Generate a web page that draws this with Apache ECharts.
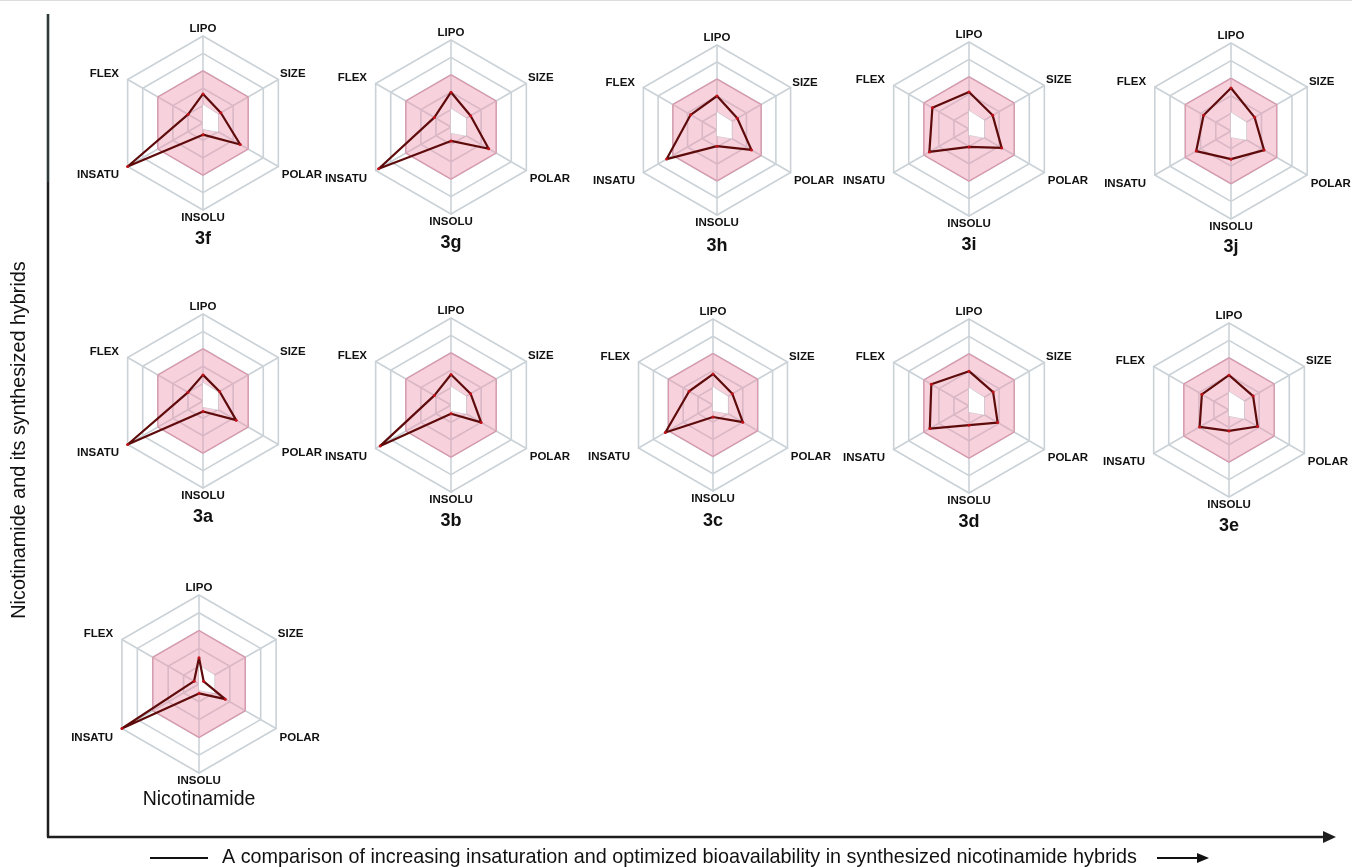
<!DOCTYPE html>
<html>
<head>
<meta charset="utf-8">
<title>Bioavailability radars of nicotinamide hybrids</title>
<script src="https://cdn.jsdelivr.net/npm/echarts@6/dist/echarts.min.js"></script>
<style>
  html, body { margin: 0; padding: 0; background: #ffffff; }
  #chart { width: 1352px; height: 867px; }
</style>
</head>
<body>
<div id="chart"></div>
<script>
// Radar axes, listed counter-clockwise starting from the top spoke
const axisNames = ['LIPO', 'FLEX', 'INSATU', 'INSOLU', 'POLAR', 'SIZE'];
const axisMax = 5;

// Optimal (pink) physicochemical zone, in the same axis order
const optimalOuter = [3, 3, 3, 3, 3, 3];
const optimalInner = [1.05, 0, 0, 0.35, 1.0, 1.0];

// Compound profiles: LIPO, FLEX, INSATU, INSOLU, POLAR, SIZE
const v3f = [1.67, 0.99, 5.0, 0.67, 2.47, 1.18];
const v3g = [2.0, 1.1, 4.8, 0.8, 2.5, 1.3];
const v3h = [2.0, 1.79, 3.42, 0.95, 2.34, 1.38];
const v3i = [2.13, 2.43, 2.63, 1.03, 2.17, 1.57];
const v3j = [2.44, 1.8, 2.28, 1.6, 2.17, 1.55];
const v3a = [1.5, 1.0, 5.0, 0.6, 2.2, 1.1];
const v3b = [1.75, 1.1, 4.7, 0.5, 2.0, 1.3];
const v3c = [1.8, 1.6, 3.2, 0.7, 2.0, 1.3];
const v3d = [2.0, 2.5, 2.6, 1.1, 1.9, 1.6];
const v3e = [2.0, 1.8, 1.95, 1.2, 1.9, 1.6];
const vNic = [1.48, 0.32, 5.0, 0.53, 1.7, 0.3];

const compoundNames = ['3f', '3g', '3h', '3i', '3j', '3a', '3b', '3c', '3d', '3e', 'Nicotinamide'];
const compoundValues = [v3f, v3g, v3h, v3i, v3j, v3a, v3b, v3c, v3d, v3e, vNic];

// Panel placement: radar centre (px) and radius (px)
const panels = [
  { cx: 203, cy: 123, r: 87 },
  { cx: 451, cy: 127, r: 87 },
  { cx: 717, cy: 130, r: 85 },
  { cx: 969, cy: 129, r: 87 },
  { cx: 1231, cy: 131, r: 88 },
  { cx: 203, cy: 401, r: 87 },
  { cx: 451, cy: 405, r: 87 },
  { cx: 713, cy: 405, r: 86 },
  { cx: 969, cy: 406, r: 87 },
  { cx: 1229, cy: 410, r: 87 },
  { cx: 199, cy: 684, r: 89 }
];

// Where each spoke name sits, as multiples of the radius from the centre
const nameAnchors = {
  LIPO:   { fx: 0,     fy: -1.08, align: 'center' },
  SIZE:   { fx: 0.885, fy: -0.56, align: 'left' },
  POLAR:  { fx: 0.905, fy: 0.60,  align: 'left' },
  INSOLU: { fx: 0,     fy: 1.09,  align: 'center' },
  INSATU: { fx: -0.965, fy: 0.60, align: 'right' },
  FLEX:   { fx: -0.965, fy: -0.56, align: 'right' }
};

const FONT = '"Liberation Sans", Arial, Helvetica, sans-serif';
const gridColor = '#cbd2d7';

const radars = panels.map(p => ({
  center: [p.cx, p.cy],
  radius: p.r,
  startAngle: 90,
  splitNumber: 5,
  shape: 'polygon',
  indicator: axisNames.map(n => ({ name: n, min: 0, max: axisMax })),
  axisName: { show: false },
  splitArea: { show: false },
  splitLine: { lineStyle: { color: gridColor, width: 1.6 } },
  axisLine: { lineStyle: { color: gridColor, width: 1.6 } }
}));

const series = compoundValues.map((vals, i) => ({
  type: 'radar',
  radarIndex: i,
  silent: true,
  data: [
    {
      value: optimalOuter,
      symbol: 'none',
      lineStyle: { color: '#d497aa', width: 1.2 },
      areaStyle: { color: 'rgba(236,150,175,0.62)' }
    },
    {
      value: optimalInner,
      symbol: 'none',
      lineStyle: { color: '#c8cdd1', width: 1 },
      areaStyle: { color: '#ffffff', opacity: 1 }
    },
    {
      name: compoundNames[i],
      value: vals,
      symbol: 'circle',
      symbolSize: 3,
      itemStyle: { color: '#c4121b' },
      lineStyle: { color: '#5e0b0b', width: 2.2 },
      areaStyle: { opacity: 0 }
    }
  ]
}));

// Spoke names around each radar
const spokeLabels = [];
panels.forEach(p => {
  axisNames.forEach(n => {
    const a = nameAnchors[n];
    spokeLabels.push({
      type: 'text',
      silent: true,
      style: {
        text: n,
        x: p.cx + a.fx * p.r,
        y: p.cy + a.fy * p.r,
        align: a.align,
        verticalAlign: 'middle',
        fill: '#111',
        font: 'bold 11.5px ' + FONT
      }
    });
  });
});

// Compound captions under each radar
const captions = panels.map((p, i) => {
  const isRef = compoundNames[i] === 'Nicotinamide';
  return {
    type: 'text',
    silent: true,
    style: {
      text: compoundNames[i],
      x: p.cx,
      y: p.cy + 116,
      align: 'center',
      verticalAlign: 'middle',
      fill: '#111',
      font: (isRef ? 'normal 19.5px ' : 'bold 18px ') + FONT
    }
  };
});

const axisColor = '#1e1e1e';
const frame = [
  // faint rule along the top edge
  { type: 'line', silent: true, shape: { x1: 0, y1: 0.5, x2: 1352, y2: 0.5 },
    style: { stroke: '#dddddd', lineWidth: 1 } },
  // vertical axis
  { type: 'line', silent: true, shape: { x1: 48, y1: 14, x2: 48, y2: 182 },
    style: { stroke: '#2e3a3a', lineWidth: 2.6 } },
  { type: 'line', silent: true, shape: { x1: 48, y1: 182, x2: 48, y2: 837 },
    style: { stroke: axisColor, lineWidth: 2.5 } },
  // horizontal axis with arrow head
  { type: 'line', silent: true, shape: { x1: 47, y1: 837, x2: 1326, y2: 837 },
    style: { stroke: axisColor, lineWidth: 2.5 } },
  { type: 'polygon', silent: true, shape: { points: [[1323, 831], [1336, 837], [1323, 843]] },
    style: { fill: axisColor } },
  // y-axis title
  { type: 'text', silent: true, x: 20, y: 440, rotation: Math.PI / 2,
    style: { text: 'Nicotinamide and its synthesized hybrids', x: 0, y: 0,
      align: 'center', verticalAlign: 'middle', fill: '#111', font: 'normal 19.8px ' + FONT } },
  // caption with leading rule and trailing arrow
  { type: 'line', silent: true, shape: { x1: 150, y1: 858, x2: 208, y2: 858 },
    style: { stroke: '#111', lineWidth: 2.2 } },
  { type: 'text', silent: true,
    style: { text: 'A comparison of increasing insaturation and optimized bioavailability in synthesized nicotinamide hybrids',
      x: 222, y: 858, align: 'left', verticalAlign: 'middle', fill: '#111', font: 'normal 19.8px ' + FONT } },
  { type: 'line', silent: true, shape: { x1: 1157, y1: 858, x2: 1200, y2: 858 },
    style: { stroke: '#111', lineWidth: 2.2 } },
  { type: 'polygon', silent: true, shape: { points: [[1197, 853], [1209, 858], [1197, 863]] },
    style: { fill: '#111' } }
];

const chart = echarts.init(document.getElementById('chart'), null, { renderer: 'canvas' });
chart.setOption({
  backgroundColor: '#ffffff',
  animation: false,
  radar: radars,
  series: series,
  graphic: { elements: frame.concat(spokeLabels, captions) }
});
</script>
</body>
</html>
